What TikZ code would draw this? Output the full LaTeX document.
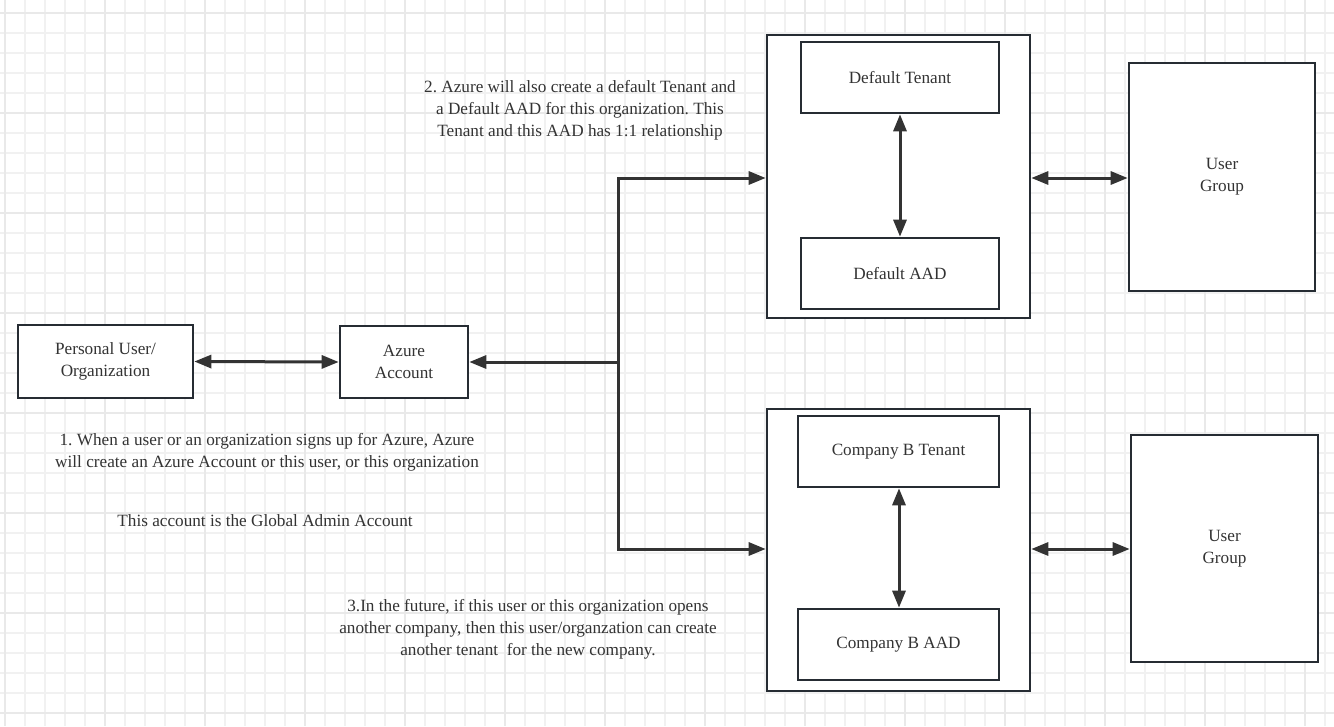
\documentclass[tikz,border=0pt]{standalone}
\usepackage{fontspec}
\setmainfont{Liberation Serif}
\usetikzlibrary{arrows.meta}
\frenchspacing
\definecolor{boxc}{HTML}{262C33}
\definecolor{txt}{HTML}{333333}
\definecolor{ln}{HTML}{333333}
\definecolor{gridminor}{HTML}{F1F1F1}
\definecolor{gridmajor}{HTML}{E9E9E9}
\tikzset{
  box/.style={draw=boxc, line width=2.6pt, fill=white, text=txt, align=center,
    inner sep=0pt, font=\fontsize{17.2}{22}\selectfont},
  lbl/.style={text=txt, align=center, inner sep=0pt, font=\fontsize{17.2}{22}\selectfont},
  conn/.style={draw=ln, line width=3pt, line join=miter},
  arr/.style={conn, -{Triangle[length=17pt,width=13pt]}},
  darr/.style={conn, {Triangle[length=17pt,width=13pt]}-{Triangle[length=17pt,width=13pt]}},
}
\begin{document}
\frenchspacing
\begin{tikzpicture}[x=1pt,y=-1pt]
\useasboundingbox (0,0) rectangle (1334,726);
\fill[white] (0,0) rectangle (1334,726);
% grid
\foreach \gx in {5,25,...,1334} {\draw[gridminor, line width=1.5pt] (\gx,0) -- (\gx,726);}
\foreach \gy in {13,33,...,726} {\draw[gridminor, line width=1.5pt] (0,\gy) -- (1334,\gy);}
\foreach \gx in {5,105,...,1334} {\draw[gridmajor, line width=1.5pt] (\gx,0) -- (\gx,726);}
\foreach \gy in {13,113,...,726} {\draw[gridmajor, line width=1.5pt] (0,\gy) -- (1334,\gy);}

% containers
\node[box, minimum width=263pt, minimum height=283pt] (cont1) at (898.5,176.5) {};
\node[box, minimum width=263pt, minimum height=282pt] (cont2) at (898.5,550) {};

% boxes
\node[box, minimum width=175pt, minimum height=73pt] (personal) at (105.5,361.5) {Personal User/\\Organization};
\node[box, minimum width=128pt, minimum height=72pt] (azure) at (404,362) {Azure\\Account};
\node[box, minimum width=198pt, minimum height=71pt] (dten) at (900,77.5) {Default Tenant};
\node[box, minimum width=198pt, minimum height=71pt] (daad) at (900,273.5) {Default AAD};
\node[box, minimum width=201pt, minimum height=71pt] (bten) at (898.5,451.5) {Company B Tenant};
\node[box, minimum width=201pt, minimum height=71pt] (baad) at (898.5,644.5) {Company B AAD};
\node[box, minimum width=186pt, minimum height=228pt] (ug1) at (1222,177) {User\\Group};
\node[box, minimum width=187pt, minimum height=227pt] (ug2) at (1224.5,548.5) {User\\Group};

% labels
\node[lbl] (t2) at (580,110) {2. Azure will also create a default Tenant and\\a Default AAD for this organization. This\\Tenant and this AAD has 1:1 relationship};
\node[lbl] (t1) at (267,452) {1. When a user or an organization signs up for Azure, Azure\\will create an Azure Account or this user, or this organization};
\node[lbl] (t1b) at (265,521) {This account is the Global Admin Account};
\node[lbl] (t3) at (528,629) {3.In the future, if this user or this organization opens\\another company, then this user/organzation can create\\another tenant~ for the new company.};

% connectors
\coordinate (b1) at (618,178);
\coordinate (b2) at (618,549);
\draw[darr] (personal.east) -- (azure.west);
\draw[arr] (b1 |- azure.east) -- (azure.east);
\draw[arr] (b2) -- (b1) -- (b1 -| cont1.west);
\draw[arr] (b1) -- (b2) -- (b2 -| cont2.west);
\draw[darr] (dten.south) -- (daad.north);
\draw[darr] ([xshift=0.5pt]bten.south) -- ([xshift=0.5pt]baad.north);
\draw[darr] (cont1.east |- b1) -- (ug1.west |- b1);
\draw[darr] (cont2.east |- b2) -- (ug2.west |- b2);
\end{tikzpicture}
\end{document}
